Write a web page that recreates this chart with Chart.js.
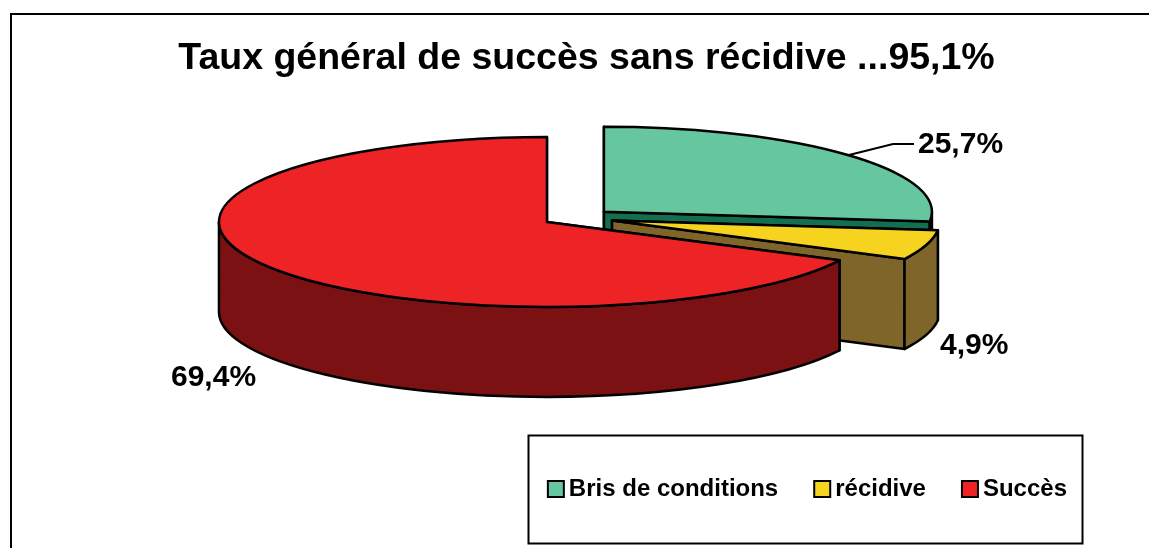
<!DOCTYPE html>
<html>
<head>
<meta charset="utf-8">
<script src="https://cdn.jsdelivr.net/npm/chart.js@4"></script>
<style>
    html, body { margin: 0; padding: 0; background: #ffffff; overflow: hidden; }
    canvas { display: block; }
</style>
</head>
<body>
<canvas id="pieChart" width="1149" height="548"></canvas>
<script>
const categories = ['Bris de conditions', 'récidive', 'Succès'];
const values = [25.7, 4.9, 69.4];
const titleText = 'Taux général de succès sans récidive ...95,1%';

const topColors = ['#66c69f', '#f5d31f', '#ee2325'];
const sideColors = ['#146e50', '#7f652a', '#7b1113'];

// where the 3D pie sits on the page
const pieX = 578.5;
const pieY = 218;
const pieRadius = 328;
const tilt = 0.259;
const depth = 90;
const explode = 35;
const perspective = 0.26; // Excel's 3D view pushes the lower angles down a little

const labelPos = [[918, 145], [940, 346], [171, 378]];

const fontName = '"Liberation Sans", Arial, sans-serif';

// angle from chart.js (0 at 3 o'clock) -> angle bent for the 3D view
function bend(angle) {
    const fromTop = angle + Math.PI / 2;
    const s = (1 - Math.cos(fromTop)) / 2;
    return angle + perspective * s * s;
}

function pointOn(cx, cy, angle) {
    return [cx + pieRadius * Math.cos(angle), cy + pieRadius * tilt * Math.sin(angle)];
}

function wall(ctx, cx, cy, angle, color) {
    const p = pointOn(cx, cy, angle);
    ctx.beginPath();
    ctx.moveTo(cx, cy);
    ctx.lineTo(p[0], p[1]);
    ctx.lineTo(p[0], p[1] + depth);
    ctx.lineTo(cx, cy + depth);
    ctx.closePath();
    ctx.fillStyle = color;
    ctx.fill();
    ctx.stroke();
}

const pie3d = {
    id: 'pie3d',
    beforeDraw(chart) {
        const ctx = chart.ctx;
        ctx.save();
        ctx.fillStyle = '#ffffff';
        ctx.fillRect(0, 0, chart.width, chart.height);
        ctx.strokeStyle = '#000000';
        ctx.lineWidth = 2;
        ctx.strokeRect(11, 14, chart.width + 20, chart.height + 20);
        // legend frame
        ctx.strokeRect(528.5, 435.5, 554, 108);
        ctx.restore();
    },
    beforeDatasetsDraw(chart) {
        const ctx = chart.ctx;
        const arcs = chart.getDatasetMeta(0).data;
        ctx.save();
        ctx.strokeStyle = '#000000';
        ctx.lineWidth = 2.5;
        ctx.lineJoin = 'round';
        arcs.forEach(function(arc, i) {
            const mid = bend((arc.startAngle + arc.endAngle) / 2);
            const cx = pieX + explode * Math.cos(mid);
            const cy = pieY + explode * tilt * Math.sin(mid);
            const a0 = bend(arc.startAngle);
            const a1 = bend(arc.endAngle);
            const ry = pieRadius * tilt;

            wall(ctx, cx, cy, a0, sideColors[i]);
            wall(ctx, cx, cy, a1, sideColors[i]);

            // outer rim, only the part turned to the viewer
            const from = Math.max(a0, 0);
            const to = Math.min(a1, Math.PI);
            if (to > from) {
                ctx.beginPath();
                ctx.ellipse(cx, cy, pieRadius, ry, 0, from, to);
                ctx.ellipse(cx, cy + depth, pieRadius, ry, 0, to, from, true);
                ctx.closePath();
                ctx.fillStyle = sideColors[i];
                ctx.fill();
                ctx.stroke();
            }

            ctx.beginPath();
            ctx.moveTo(cx, cy);
            ctx.ellipse(cx, cy, pieRadius, ry, 0, a0, a1);
            ctx.closePath();
            ctx.fillStyle = topColors[i];
            ctx.fill();
            ctx.stroke();
        });
        ctx.restore();
        return false;
    },
    afterDraw(chart) {
        const ctx = chart.ctx;
        ctx.save();
        // leader line of the green slice
        ctx.strokeStyle = '#000000';
        ctx.lineWidth = 2;
        ctx.beginPath();
        ctx.moveTo(849, 155);
        ctx.lineTo(893, 144);
        ctx.lineTo(914, 144);
        ctx.stroke();

        ctx.fillStyle = '#000000';
        ctx.font = 'bold 30px ' + fontName;
        ctx.textBaseline = 'middle';
        values.forEach(function(v, i) {
            const text = v.toFixed(1).replace('.', ',') + '%';
            ctx.fillText(text, labelPos[i][0], labelPos[i][1]);
        });
        ctx.restore();
    }
};

const ctx = document.getElementById('pieChart').getContext('2d');

let myChart = new Chart(ctx, {
    type: 'pie',
    data: {
        labels: categories,
        datasets: [{
            data: values,
            backgroundColor: topColors,
            borderColor: '#000000',
            borderWidth: 2
        }]
    },
    options: {
        responsive: false,
        animation: false,
        radius: pieRadius,
        layout: {
            padding: { left: 63, right: 39, top: 0, bottom: 37 }
        },
        plugins: {
            title: {
                display: true,
                text: titleText,
                color: '#000000',
                font: { family: fontName, size: 37.5, weight: 'bold' },
                padding: { top: 36, bottom: 10 }
            },
            legend: {
                display: true,
                position: 'bottom',
                align: 'end',
                labels: {
                    color: '#000000',
                    font: { family: fontName, size: 24, weight: 'bold' },
                    usePointStyle: true,
                    pointStyle: 'rect',
                    boxWidth: 2,
                    boxHeight: 16,
                    padding: 43
                }
            },
            tooltip: { enabled: false }
        }
    },
    plugins: [pie3d]
});
</script>
</body>
</html>
